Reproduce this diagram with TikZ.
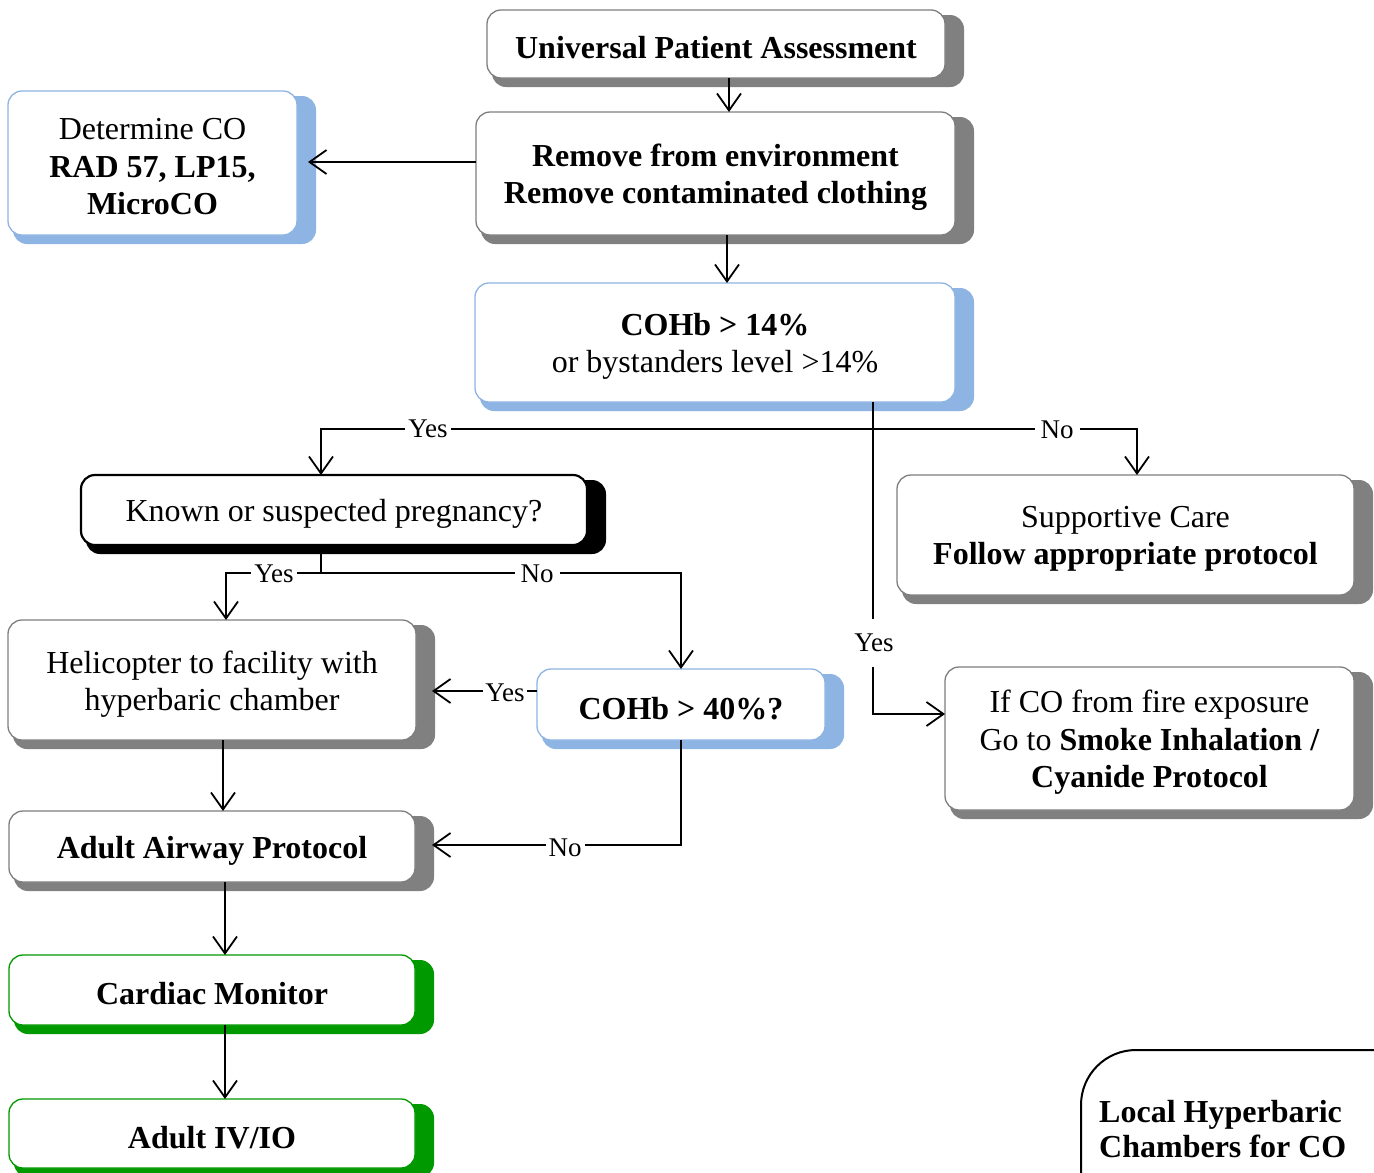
\documentclass[tikz,border=0pt]{standalone}
\usepackage{fontspec}
\setmainfont{Liberation Serif}
\usetikzlibrary{arrows.meta,calc}
\definecolor{shgray}{HTML}{808080}
\definecolor{shblue}{HTML}{8EB4E3}
\definecolor{shgreen}{HTML}{009900}
\definecolor{bdgray}{HTML}{7F7F7F}
\definecolor{bdblue}{HTML}{8EB4E3}
\tikzset{
 boxbase/.style={draw, fill=white, rounded corners=14pt, inner sep=0pt, outer sep=0pt, line width=1.3pt},
 graybox/.style={boxbase, draw=bdgray},
 bluebox/.style={boxbase, draw=bdblue},
 greenbox/.style={boxbase, draw=shgreen},
 blackbox/.style={boxbase, draw=black, line width=2.2pt},
 boxtext/.style={inner sep=0pt, align=center, font=\fontsize{32}{37.5}\selectfont},
 conn/.style={line width=1.8pt},
 arr/.style={conn, -{Straight Barb[length=17pt,width=24pt,line width=1.8pt]}},
 lbl/.style={fill=white, inner xsep=3pt, inner ysep=2pt, font=\fontsize{27}{30}\selectfont},
}
\newcommand\flowbox[8]{%
 \fill[#6, rounded corners=14pt] ({#2+5},{#3+5}) rectangle ({#4+19},{#5+9});
 \node[#7, minimum width={#4-#2}, minimum height={#5-#3}] (#1) at ({(#2+#4)/2},{(#3+#5)/2}) {};
 \node[boxtext] (#1t) at ([yshift=-4pt]#1.center) {#8};
}
\begin{document}
\begin{tikzpicture}[x=1pt,y=-1pt]
\useasboundingbox (0,0) rectangle (1374,1173);
\clip (0,0) rectangle (1374,1173);
\fill[white] (0,0) rectangle (1374,1173);

\flowbox{upa}{487}{10}{945}{78}{shgray}{graybox}{\textbf{Universal Patient Assessment}}
\flowbox{rem}{476}{112}{955}{235}{shgray}{graybox}{\textbf{Remove from environment}\\\textbf{Remove contaminated clothing}}
\flowbox{det}{8}{91}{297}{235}{shblue}{bluebox}{Determine CO\\\textbf{RAD 57, LP15,}\\\textbf{MicroCO}}
\flowbox{c14}{475}{283}{955}{402}{shblue}{bluebox}{\textbf{COHb > 14\%}\\or bystanders level >14\%}
\flowbox{preg}{81}{475}{587}{545}{black}{blackbox}{Known or suspected pregnancy?}
\flowbox{supp}{897}{475}{1354}{595}{shgray}{graybox}{Supportive Care\\\textbf{Follow appropriate protocol}}
\flowbox{heli}{8}{620}{416}{740}{shgray}{graybox}{Helicopter to facility with\\hyperbaric chamber}
\flowbox{c40}{537}{669}{825}{740}{shblue}{bluebox}{\textbf{COHb > 40\%?}}
\flowbox{fire}{945}{667}{1354}{810}{shgray}{graybox}{If CO from fire exposure\\Go to \textbf{Smoke Inhalation /}\\\textbf{Cyanide Protocol}}
\flowbox{air}{9}{811}{415}{882}{shgray}{graybox}{\textbf{Adult Airway Protocol}}
\flowbox{card}{9}{955}{415}{1025}{shgreen}{greenbox}{\textbf{Cardiac Monitor}}
\flowbox{iv}{9}{1099}{415}{1168}{shgreen}{greenbox}{\textbf{Adult IV/IO}}

% local hyperbaric box
\draw[line width=2pt, rounded corners=55pt] (1081,1200) -- (1081,1050) -- (1420,1050);
\node[anchor=north west, inner sep=0pt, align=left, font=\fontsize{32}{35}\selectfont\bfseries] (loc) at (1099,1100) {Local Hyperbaric\\Chambers for CO};

% connectors
\coordinate (jA) at (729,0);
\draw[arr] (upa.south -| jA) -- (rem.north -| jA);
\coordinate (jB) at (0,162);
\coordinate (jB2) at (308,162);
\draw[arr] (rem.west |- jB) -- (jB2);
\coordinate (jC) at (727,0);
\draw[arr] (rem.south -| jC) -- (c14.north -| jC);

\coordinate (jD) at (873,429);
\coordinate (jE) at (873,714);
\draw[arr] (c14.south -| jD) -- (jE) -- (fire.west |- jE);
\coordinate (jF) at (321,429);
\coordinate (jG) at (1137,429);
\draw[arr] (jD) -- (jF) -- (preg.north -| jF);
\draw[arr] (jD) -- (jG) -- (supp.north -| jG);

\coordinate (jH) at (321,573);
\coordinate (jI) at (226,573);
\coordinate (jJ) at (681,573);
\draw[conn] (preg.south -| jH) -- (jH);
\draw[arr] (jH) -- (jI) -- (heli.north -| jI);
\draw[arr] (jH) -- (jJ) -- (c40.north -| jJ);

\coordinate (jK) at (0,691);
\coordinate (jK2) at (432,691);
\draw[arr] (c40.west |- jK) -- (jK2);
\coordinate (jL) at (681,845);
\coordinate (jL2) at (432,845);
\draw[arr] (c40.south -| jL) -- (jL) -- (jL2);

\coordinate (jM) at (223,0);
\draw[arr] (heli.south -| jM) -- (air.north -| jM);
\coordinate (jN) at (225,0);
\draw[arr] (air.south -| jN) -- (card.north -| jN);
\draw[arr] (card.south -| jN) -- (iv.north -| jN);

% labels
\node[lbl] (l1) at (428,429) {Yes};
\node[lbl, inner xsep=6pt] (l2) at (1057,430) {No};
\node[lbl, inner ysep=15pt] (l3) at (874,643) {Yes};
\node[lbl] (l4) at (274,574) {Yes};
\node[lbl, inner xsep=6pt] (l5) at (537,574) {No};
\node[lbl, inner xsep=2pt] (l6) at (505,693) {Yes};
\node[lbl] (l7) at (565,848) {No};
\end{tikzpicture}
\end{document}
